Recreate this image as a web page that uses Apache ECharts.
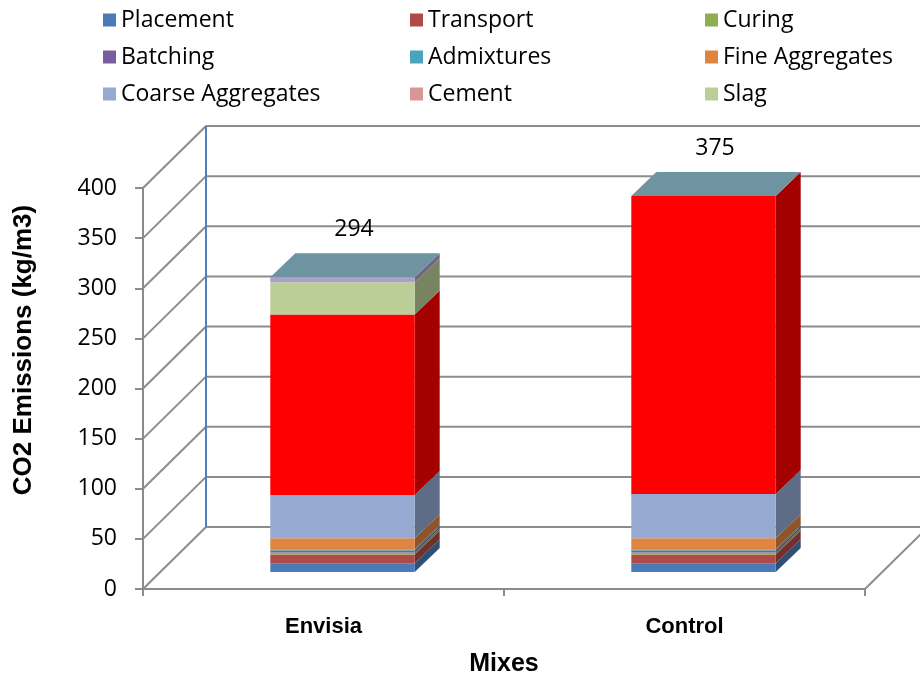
<!DOCTYPE html>
<html>
<head>
<meta charset="utf-8">
<script src="https://cdn.jsdelivr.net/npm/echarts@6/dist/echarts.min.js"></script>
<style>
  html, body { margin: 0; padding: 0; background: #fff; }
  #chart { width: 920px; height: 677px; }
</style>
</head>
<body>
<div id="chart"></div>
<script>
// Mixes and CO2 emission components (kg/m3)
const categories = ['Envisia', 'Control'];
const yTicks = [0, 50, 100, 150, 200, 250, 300, 350, 400];

const placement        = [8.7, 8.7];
const transport        = [8.7, 8.7];
const curing           = [2.0, 2.0];
const batching         = [2.0, 2.0];
const admixtures       = [1.3, 1.3];
const fineAggregates   = [10.9, 11.0];
const coarseAggregates = [43.3, 44.0];
const cement           = [180.0, 297.3];
const slag             = [32.1, 0];
const other            = [5.0, 0];

const components = [
  { name: 'Placement',         values: placement,        color: '#4A7BB7' },
  { name: 'Transport',         values: transport,        color: '#B04A47' },
  { name: 'Curing',            values: curing,           color: '#8FAE4F' },
  { name: 'Batching',          values: batching,         color: '#7A5D9E' },
  { name: 'Admixtures',        values: admixtures,       color: '#4BA3BD' },
  { name: 'Fine Aggregates',   values: fineAggregates,   color: '#DF8540' },
  { name: 'Coarse Aggregates', values: coarseAggregates, color: '#95A9D1' },
  { name: 'Cement',            values: cement,           color: '#FF0000', legendColor: '#D99694' },
  { name: 'Slag',              values: slag,             color: '#BBCE98' },
  { name: 'Other',             values: other,            color: '#AA9FC6' }
];

// pseudo-3D geometry (pixels)
const DEPTH = [63, -62];          // floor / wall depth
const BAR_FRONT = [19, -17];      // bar front face offset from front plane
const BAR_BACK = [44, -41];       // bar back face offset from front plane
const GRID_COLOR = '#8C8C8C';
const TOP_COLOR = '#6E94A1';

function shade(hex, f) {
  const n = parseInt(hex.slice(1), 16);
  const r = Math.round(((n >> 16) & 255) * f);
  const g = Math.round(((n >> 8) & 255) * f);
  const b = Math.round((n & 255) * f);
  return 'rgb(' + r + ',' + g + ',' + b + ')';
}

function seg(x1, y1, x2, y2, color, w) {
  return { type: 'line', shape: { x1, y1, x2, y2 },
           style: { stroke: color || GRID_COLOR, lineWidth: w || 2 }, silent: true };
}

// walls, floor and gridlines
function renderFrame(params, api) {
  const cs = params.coordSys;
  const left = cs.x, right = cs.x + cs.width;
  const children = [];
  yTicks.forEach(function (t) {
    const y = api.coord([0, t])[1];
    children.push(seg(left, y, left + DEPTH[0], y + DEPTH[1]));
    children.push(seg(left + DEPTH[0], y + DEPTH[1], right + DEPTH[0] + 30, y + DEPTH[1]));
  });
  const y0 = api.coord([0, yTicks[0]])[1];
  const yMax = api.coord([0, yTicks[yTicks.length - 1]])[1];
  children.push(seg(right, y0, right + DEPTH[0], y0 + DEPTH[1]));
  children.push(seg(left + DEPTH[0], y0 + DEPTH[1], left + DEPTH[0], yMax + DEPTH[1], '#4F81BD', 2));
  return { type: 'group', children: children };
}

// one stacked segment: front face + right side face
function renderSegment(params, api) {
  const v = api.value(2);
  if (!(v > 0)) return null;
  const cat = api.value(0), base = api.value(1);
  const pB = api.coord([cat, base]);
  const pT = api.coord([cat, base + v]);
  const bw = api.size([1, 0])[0] * 0.4;
  const color = api.visual('color');
  const xl = pB[0] - bw / 2 + BAR_FRONT[0];
  const xr = pB[0] + bw / 2 + BAR_FRONT[0];
  const yb = pB[1] + BAR_FRONT[1];
  const yt = pT[1] + BAR_FRONT[1];
  const ddx = BAR_BACK[0] - BAR_FRONT[0], ddy = BAR_BACK[1] - BAR_FRONT[1];
  return {
    type: 'group',
    children: [
      { type: 'polygon',
        shape: { points: [[xr, yt], [xr + ddx, yt + ddy], [xr + ddx, yb + ddy], [xr, yb]] },
        style: { fill: shade(color, 0.64) } },
      { type: 'rect', shape: { x: xl, y: yt, width: xr - xl, height: yb - yt },
        style: { fill: color } }
    ]
  };
}

// top face of each stack and its total label
function renderTop(params, api) {
  const cat = api.value(0), total = api.value(1);
  const p = api.coord([cat, total]);
  const bw = api.size([1, 0])[0] * 0.4;
  const xl = p[0] - bw / 2 + BAR_FRONT[0];
  const xr = p[0] + bw / 2 + BAR_FRONT[0];
  const yt = p[1] + BAR_FRONT[1];
  const ddx = BAR_BACK[0] - BAR_FRONT[0], ddy = BAR_BACK[1] - BAR_FRONT[1];
  return {
    type: 'group',
    children: [
      { type: 'polygon',
        shape: { points: [[xl, yt], [xl + ddx, yt + ddy], [xr + ddx, yt + ddy], [xr, yt]] },
        style: { fill: TOP_COLOR } },
      { type: 'text',
        style: { x: (xl + xr) / 2 + ddx / 2 - 1, y: yt + ddy - 12,
                 text: String(Math.round(total)), fill: '#000',
                 font: '23px "Open Sans"', align: 'center', verticalAlign: 'bottom' } }
    ]
  };
}

const series = [{
  type: 'custom', name: '__frame', renderItem: renderFrame,
  data: [[0, 0]], silent: true, z: 1, tooltip: { show: false }
}];

const running = categories.map(function () { return 0; });
components.forEach(function (c) {
  const data = categories.map(function (_, i) {
    const item = [i, running[i], c.values[i]];
    running[i] += c.values[i];
    return item;
  });
  series.push({
    type: 'custom', name: c.name, renderItem: renderSegment,
    itemStyle: { color: c.color }, data: data, z: 2,
    encode: { x: 0, y: [1, 2] }
  });
});
series.push({
  type: 'custom', name: '__top', renderItem: renderTop, z: 3,
  data: categories.map(function (_, i) { return [i, running[i]]; }),
  encode: { x: 0, y: 1 }
});

function legendItem(name) {
  const c = components.find(function (k) { return k.name === name; });
  return c.legendColor ? { name: name, itemStyle: { color: c.legendColor } } : { name: name };
}
const legendColumns = [
  ['Placement', 'Batching', 'Coarse Aggregates'],
  ['Transport', 'Admixtures', 'Cement'],
  ['Curing', 'Fine Aggregates', 'Slag']
];
const legendLefts = [98, 405, 700];

const chart = echarts.init(document.getElementById('chart'), null, { renderer: 'canvas' });
chart.setOption({
  backgroundColor: '#fff',
  animation: false,
  legend: legendColumns.map(function (col, k) {
    return {
      orient: 'vertical', left: legendLefts[k], top: 3,
      icon: 'rect', itemWidth: 13, itemHeight: 13, itemGap: 13,
      data: col.map(legendItem),
      textStyle: { fontFamily: 'Open Sans', fontSize: 23, color: '#000',
                   lineHeight: 24, padding: [0, 0, 0, 0] }
    };
  }),
  grid: { left: 143, right: 55, top: 188, bottom: 88, containLabel: false, outerBoundsMode: 'none' },
  xAxis: {
    type: 'category', data: categories,
    axisLine: { lineStyle: { color: GRID_COLOR, width: 2 } },
    axisTick: { show: true, length: 7, interval: 0, lineStyle: { color: GRID_COLOR, width: 2 } },
    axisLabel: { margin: 27, color: '#000', fontFamily: 'Liberation Sans', fontWeight: 'bold', fontSize: 22 },
    name: 'Mixes', nameLocation: 'middle', nameGap: 63,
    nameTextStyle: { color: '#000', fontFamily: 'Liberation Sans', fontWeight: 'bold', fontSize: 25 }
  },
  yAxis: {
    type: 'value', min: 0, max: 400, interval: 50,
    axisLine: { show: true, lineStyle: { color: GRID_COLOR, width: 2 } },
    axisTick: { show: true, length: 8, lineStyle: { color: GRID_COLOR, width: 2 } },
    splitLine: { show: false },
    axisLabel: { margin: 26, color: '#000', fontFamily: 'Open Sans', fontSize: 23 }
  },
  graphic: [{
    type: 'text', x: 24, y: 350, rotation: Math.PI / 2,
    style: { text: 'CO2 Emissions (kg/m3)', fill: '#000',
             font: 'bold 26px "Liberation Sans"', align: 'center', verticalAlign: 'middle' }
  }],
  series: series
});
</script>
</body>
</html>
